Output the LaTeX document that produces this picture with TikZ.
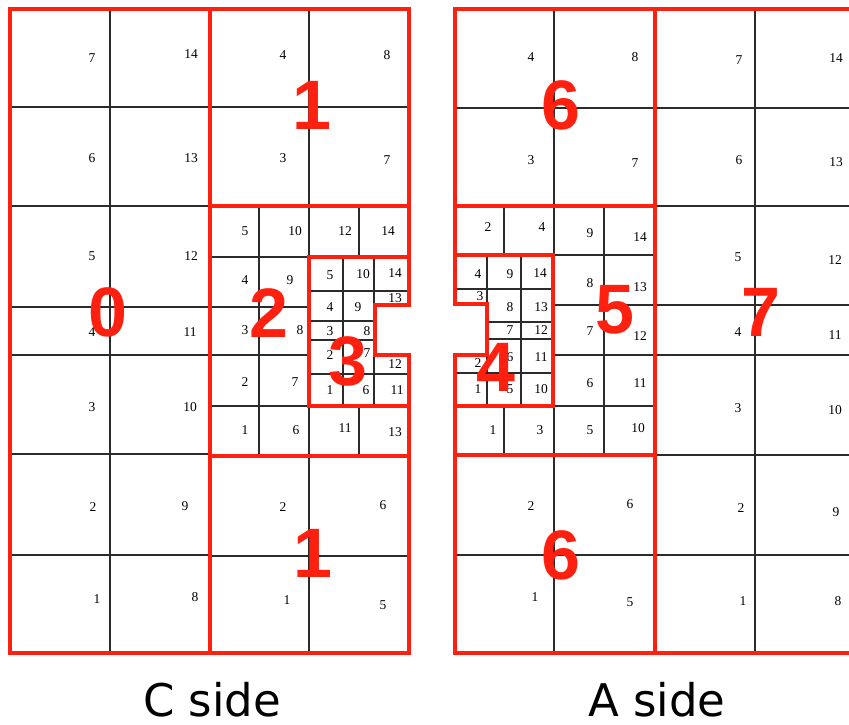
\documentclass[tikz,border=0pt]{standalone}
\usepackage{fontspec}
\setmainfont{Liberation Serif}
\newfontfamily\regionfont{Liberation Sans}
\newfontfamily\sidefont{DejaVu Sans}
\usepackage{xcolor}
\usepackage{tikz}
\definecolor{sectorred}{HTML}{FF2010}
\definecolor{padgray}{HTML}{2B2B2B}

\tikzset{
  padline/.style={draw=padgray, line width=1.3pt},
  sectorline/.style={draw=sectorred, line width=3.8pt, line join=miter},
  padnum/.style={inner sep=0pt, font=\fontsize{13.5}{14}\selectfont},
  sectornum/.style={inner sep=0pt, text=sectorred, font=\regionfont\bfseries\fontsize{70}{70}\selectfont},
  sidename/.style={inner sep=0pt, anchor=base, font=\sidefont\fontsize{45}{45}\selectfont}
}

\begin{document}
\begin{tikzpicture}[x=1pt, y=-1pt]
    \useasboundingbox (0,0) rectangle (849,725);
    \fill[white] (0,0) rectangle (849,725);

    % C side, pads
    \draw[padline] (110,9) -- (110,653);
    \foreach \y in {107,206,307,355,454,555} \draw[padline] (10,\y) -- (210,\y);
    \draw[padline] (309,9) -- (309,206) (210,107) -- (409,107);
    \draw[padline] (259,206) -- (259,456) (309,206) -- (309,257) (359,206) -- (359,257)
                   (309,406) -- (309,456) (359,406) -- (359,456);
    \foreach \y in {257,307,355,406} \draw[padline] (210,\y) -- (309,\y);
    \draw[padline] (343,257) -- (343,406) (374,257) -- (374,305) (374,355) -- (374,406)
                   (309,291) -- (409,291) (309,321) -- (375,321) (309,340) -- (375,340)
                   (309,374) -- (409,374);
    \draw[padline] (309,456) -- (309,653) (210,556) -- (409,556);

    % C side, sectors
    \draw[sectorline] (10,9) rectangle (210,653);
    \draw[sectorline] (210,9) rectangle (409,206);
    \draw[sectorline] (409,305) -- (409,206) -- (210,206) -- (210,456) -- (409,456) -- (409,355);
    \draw[sectorline] (210,456) rectangle (409,653);
    \draw[sectorline] (309,257) -- (409,257) -- (409,305) -- (375,305) -- (375,355)
                      -- (409,355) -- (409,406) -- (309,406) -- cycle;

    % A side, pads
    \draw[padline] (554,9) -- (554,206) (455,108) -- (655,108);
    \draw[padline] (504,206) -- (504,255) (504,406) -- (504,455) (554,206) -- (554,455)
                   (604,206) -- (604,455);
    \foreach \y in {255,305,355,406} \draw[padline] (554,\y) -- (655,\y);
    \draw[padline] (487,255) -- (487,304) (487,355) -- (487,406) (521,255) -- (521,406)
                   (455,289) -- (553,289) (487,322) -- (553,322) (487,339) -- (553,339)
                   (455,373) -- (553,373);
    \draw[padline] (554,455) -- (554,653) (455,555) -- (655,555);
    \draw[padline] (755,9) -- (755,653);
    \foreach \y in {108,206,305,355,455,555} \draw[padline] (655,\y) -- (855,\y);

    % A side, sectors
    \draw[sectorline] (455,9) rectangle (655,206);
    \draw[sectorline] (455,304) -- (455,206) -- (655,206) -- (655,455) -- (455,455) -- (455,355);
    \draw[sectorline] (455,455) rectangle (655,653);
    \draw[sectorline] (655,9) rectangle (855,653);
    \draw[sectorline] (455,255) -- (553,255) -- (553,406) -- (455,406) -- (455,355)
                      -- (487,355) -- (487,304) -- (455,304) -- cycle;

    % pad numbers
    \foreach \px/\py/\t [count=\i] in {92/58/7, 191/54/14, 92/158/6, 191/158/13, 92/256/5, 191/256/12,
        92/332/4, 190/332/11, 92/407/3, 190/407/10, 93/507/2, 185/506/9, 97/599/1, 195/597/8}
      \node[padnum] (czero\i) at (\px,\py) {\t};
    \foreach \px/\py/\t [count=\i] in {283/55/4, 387/55/8, 283/158/3, 387/160/7,
        283/507/2, 383/505/6, 287/600/1, 383/605/5}
      \node[padnum] (cone\i) at (\px,\py) {\t};
    \foreach \px/\py/\t [count=\i] in {245/231/5, 295/231/10, 345/231/12, 388/231/14,
        245/280/4, 290/280/9, 245/330/3, 300/330/8, 245/382/2, 295/382/7,
        245/430/1, 296/430/6, 345/428/11, 395/432/13}
      \node[padnum] (ctwo\i) at (\px,\py) {\t};
    \foreach \px/\py/\t [count=\i] in {330/275/5, 363/274/10, 395/273/14, 395/298/13,
        330/307/4, 358/307/9, 330/331/3, 367/331/8, 330/355/2, 367/353/7,
        395/364/12, 330/390/1, 366/390/6, 397/390/11}
      \node[padnum] (cthree\i) at (\px,\py) {\t};
    \foreach \px/\py/\t [count=\i] in {531/57/4, 635/57/8, 531/160/3, 635/163/7,
        531/506/2, 630/504/6, 535/597/1, 630/602/5}
      \node[padnum] (asix\i) at (\px,\py) {\t};
    \foreach \px/\py/\t [count=\i] in {739/60/7, 836/58/14, 739/160/6, 836/162/13,
        738/257/5, 835/260/12, 738/332/4, 835/335/11, 738/408/3, 835/410/10,
        741/508/2, 836/512/9, 743/601/1, 838/601/8}
      \node[padnum] (aseven\i) at (\px,\py) {\t};
    \foreach \px/\py/\t [count=\i] in {488/227/2, 542/227/4, 590/233/9, 640/237/14,
        590/283/8, 640/287/13, 590/331/7, 640/336/12, 590/383/6, 640/383/11,
        493/430/1, 540/430/3, 590/430/5, 638/428/10}
      \node[padnum] (afive\i) at (\px,\py) {\t};
    \foreach \px/\py/\t [count=\i] in {478/274/4, 510/274/9, 540/273/14, 480/296/3,
        510/307/8, 541/307/13, 510/330/7, 541/330/12, 478/363/2, 510/357/6,
        541/357/11, 478/389/1, 510/389/5, 541/389/10}
      \node[padnum] (afour\i) at (\px,\py) {\t};

    % sector numbers
    \node[sectornum] (sec0) at (108,312) {0};
    \node[sectornum] (sec1top) at (312,105) {1};
    \node[sectornum] (sec1bot) at (313,553) {1};
    \node[sectornum] (sec2) at (269,313) {2};
    \node[sectornum] (sec3) at (348,361) {3};
    \node[sectornum] (sec4) at (496,367) {4};
    \node[sectornum] (sec5) at (615,310) {5};
    \node[sectornum] (sec6top) at (561,105) {6};
    \node[sectornum] (sec6bot) at (561,555) {6};
    \node[sectornum] (sec7) at (761,312) {7};

    \node[sidename] (cside) at (212,716) {C side};
    \node[sidename] (aside) at (657,716) {A side};
  \end{tikzpicture}
\end{document}
